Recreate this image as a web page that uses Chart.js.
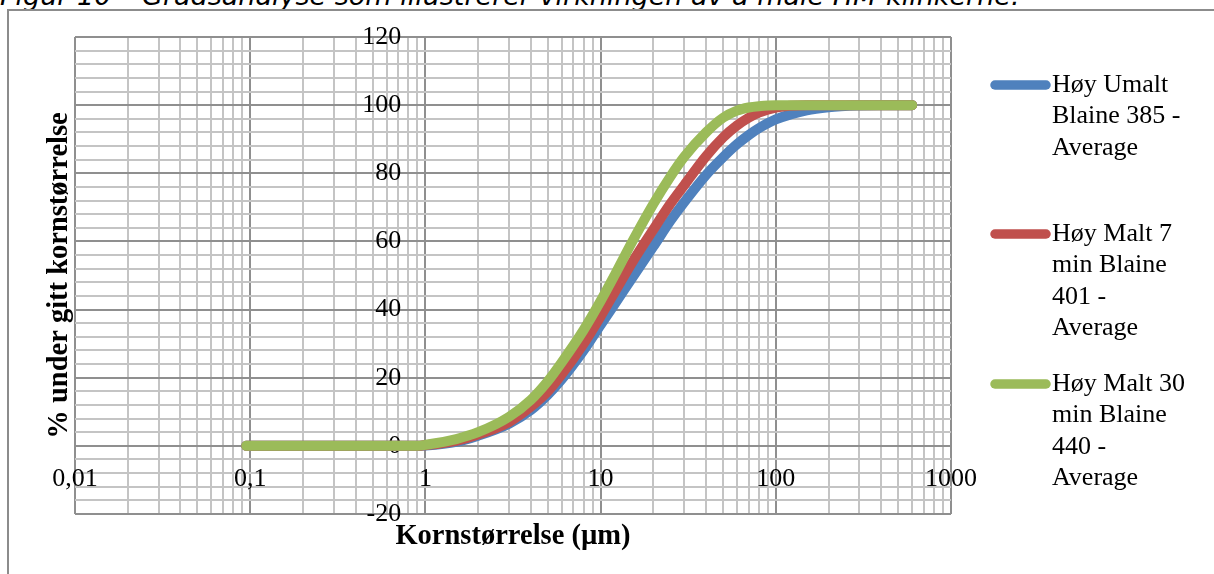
<!DOCTYPE html>
<html>
<head>
<meta charset="utf-8">
<script src="https://cdn.jsdelivr.net/npm/chart.js@4"></script>
<style>
  html, body { margin: 0; padding: 0; background: #fff; overflow: hidden; width: 1214px; height: 574px; }
  #cap { position: absolute; left: 0; top: -20px; font: oblique 27px "DejaVu Sans", sans-serif; white-space: nowrap; color: #000; }
  #frame { position: absolute; left: 7px; top: 9px; width: 1300px; height: 700px; border: 2px solid #8c8c8c; }
  #wrap { position: absolute; left: 0; top: 0; width: 1214px; height: 574px; }
</style>
</head>
<body>
<div id="cap">Figur 10 – Gradsanalyse som illustrerer virkningen av å male HM-klinkerne.</div>
<div id="frame"></div>
<div id="wrap"><canvas id="c" width="1214" height="574"></canvas></div>
<script>
// Particle size (µm) and cumulative % below each size
const sizes = [0.095, 0.15, 0.2, 0.3, 0.5, 0.7, 0.9, 1, 1.5, 2, 3, 4, 5, 6, 8, 10, 12, 15, 20, 25, 30, 40, 50, 60, 70, 80, 100, 150, 200, 300, 400, 600];
const umalt385 = [0, 0, 0, 0, 0, 0, 0, 0.1, 1.2, 3, 6.5, 10.5, 15, 19.5, 28, 35.5, 41.5, 49, 58.5, 66, 71.5, 79.5, 84.7, 88.5, 91.2, 93.2, 95.8, 98.5, 99.4, 99.9, 100, 100];
const malt7min401 = [0, 0, 0, 0, 0, 0, 0, 0.2, 1.5, 3.3, 7, 11.5, 16, 21, 30, 38, 45, 53.5, 63.5, 71, 76.5, 85, 90.5, 94, 96.3, 97.8, 99.3, 100, 100, 100, 100, 100];
const malt30min440 = [0, 0, 0, 0, 0, 0, 0, 0.3, 2, 4, 8.5, 13.5, 19, 24.5, 34, 42.5, 50, 59.5, 71, 79, 84.8, 92, 96.3, 98.4, 99.3, 99.7, 100, 100, 100, 100, 100, 100];

const seriesNames = ['Høy Umalt Blaine 385 - Average', 'Høy Malt 7 min Blaine 401 - Average', 'Høy Malt 30 min Blaine 440 - Average'];
const legendLines = [
  ['Høy Umalt', 'Blaine 385 -', 'Average'],
  ['Høy Malt 7', 'min Blaine', '401 -', 'Average'],
  ['Høy Malt 30', 'min Blaine', '440 -', 'Average']
];
const xDecades = [0.01, 0.1, 1, 10, 100, 1000];
const xTickLabels = ['0,01', '0,1', '1', '10', '100', '1000'];
const yMin = -20, yMax = 120, yStep = 4, yLabelStep = 20;
const xTitle = 'Kornstørrelse (µm)';
const yTitle = '% under gitt kornstørrelse';

const colors = ['#4F81BD', '#C0504D', '#9BBB59'];
const MAJOR = '#8f8f8f', MINOR = '#c4c4c4';
const serif = '"Liberation Serif", "DejaVu Serif", serif';

function pts(vals) { return sizes.map((s, i) => ({ x: s, y: vals[i] })); }
function decadeIndex(v) {
  for (let i = 0; i < xDecades.length; i++) {
    if (Math.abs(Math.log10(v) - Math.log10(xDecades[i])) < 1e-6) return i;
  }
  return -1;
}

const allSeries = [umalt385, malt7min401, malt30min440];
const datasets = allSeries.map((vals, i) => ({
  label: seriesNames[i],
  data: pts(vals),
  borderColor: colors[i],
  backgroundColor: colors[i],
  borderWidth: 10,
  borderCapStyle: 'round',
  borderJoinStyle: 'round',
  pointRadius: 0,
  fill: false,
  cubicInterpolationMode: 'monotone',
  order: allSeries.length - 1 - i
}));

const decorations = {
  id: 'decorations',
  afterDraw(chart) {
    const ctx = chart.ctx;
    const area = chart.chartArea;
    ctx.save();
    // axis titles
    ctx.fillStyle = '#000';
    ctx.font = 'bold 28.5px ' + serif;
    ctx.textAlign = 'center';
    ctx.textBaseline = 'middle';
    ctx.fillText(xTitle, (area.left + area.right) / 2, 537);
    ctx.save();
    ctx.translate(60, (area.top + area.bottom) / 2);
    ctx.rotate(-Math.PI / 2);
    ctx.fillText(yTitle, 0, 0);
    ctx.restore();
    // legend
    const legendTop = [85, 234, 384];
    ctx.font = '26px ' + serif;
    ctx.textAlign = 'left';
    chart.data.datasets.forEach((ds, i) => {
      const y = legendTop[i];
      ctx.strokeStyle = ds.borderColor;
      ctx.lineWidth = 9.5;
      ctx.lineCap = 'round';
      ctx.beginPath();
      ctx.moveTo(995, y);
      ctx.lineTo(1046, y);
      ctx.stroke();
      legendLines[i].forEach((t, k) => ctx.fillText(t, 1052, y + k * 31.5));
    });
    ctx.restore();
  }
};

const yGrid = (c) => (c.tick && c.tick.value % yLabelStep === 0 ? MAJOR : MINOR);

new Chart(document.getElementById('c'), {
  type: 'line',
  data: { datasets },
  options: {
    responsive: false,
    animation: false,
    layout: { padding: { left: 75, top: 37, right: 263, bottom: 60 } },
    plugins: { legend: { display: false }, tooltip: { enabled: false } },
    scales: {
      x: {
        type: 'logarithmic',
        min: xDecades[0],
        max: xDecades[xDecades.length - 1],
        position: { y: 0 },
        afterBuildTicks(scale) {
          const t = [];
          for (let d = 0; d < xDecades.length; d++) {
            const base = xDecades[d];
            const top = d === xDecades.length - 1 ? 1 : 9;
            for (let k = 1; k <= top; k++) t.push({ value: base * k });
          }
          scale.ticks = t;
        },
        grid: {
          drawTicks: false,
          lineWidth: 2,
          color: (c) => (c.tick && decadeIndex(c.tick.value) >= 0 ? MAJOR : MINOR)
        },
        border: { display: true, color: MAJOR, width: 2 },
        ticks: {
          autoSkip: false,
          maxRotation: 0,
          padding: 18,
          color: '#000',
          font: { family: serif, size: 26 },
          callback: (v) => { const i = decadeIndex(v); return i >= 0 ? xTickLabels[i] : ''; }
        }
      },
      // value axis: horizontal gridlines only
      y: {
        type: 'linear',
        min: yMin,
        max: yMax,
        position: { x: 1 },
        grid: { drawTicks: false, lineWidth: 2, color: yGrid },
        border: { display: false },
        ticks: { stepSize: yStep, autoSkip: false, display: false }
      },
      // value labels, drawn above the curves just left of the x = 1 gridline
      yLabels: {
        axis: 'y',
        type: 'linear',
        min: yMin,
        max: yMax,
        position: { x: 0.727 },
        z: 1,
        grid: { display: false },
        border: { display: false },
        ticks: {
          stepSize: yStep,
          autoSkip: false,
          padding: 0,
          color: '#000',
          font: { family: serif, size: 26 },
          callback: (v) => (v % yLabelStep === 0 ? String(v) : '')
        }
      }
    }
  },
  plugins: [decorations]
});
</script>
</body>
</html>
